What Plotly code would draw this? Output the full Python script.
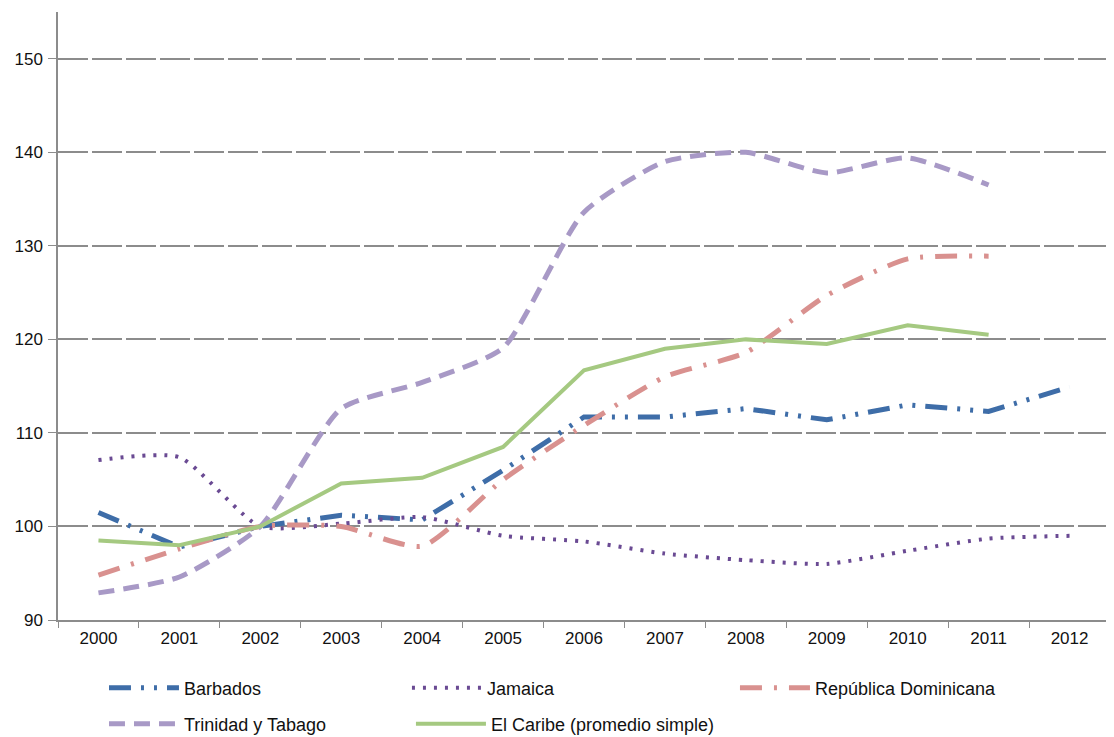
import plotly.graph_objects as go

years = [str(y) for y in range(2000, 2013)]

barbados = [101.5, 97.8, 100.0, 101.2, 100.7, 106.0, 111.7, 111.7, 112.6, 111.4, 113.0, 112.3, 114.9]
jamaica = [107.1, 107.4, 100.0, 100.3, 101.0, 99.0, 98.4, 97.1, 96.4, 96.0, 97.4, 98.7, 99.0]
rep_dominicana = [94.8, 97.6, 100.0, 100.0, 97.9, 105.0, 110.8, 116.0, 118.6, 124.7, 128.6, 128.9]
trinidad = [92.9, 94.6, 100.0, 112.6, 115.4, 119.1, 133.6, 139.0, 140.0, 137.8, 139.4, 136.5]
caribe = [98.5, 98.0, 100.0, 104.6, 105.2, 108.5, 116.7, 119.0, 120.0, 119.5, 121.5, 120.5]

y_ticks = [90, 100, 110, 120, 130, 140, 150]

fig = go.Figure()

# series: name, values, colour, width, dash pattern, smoothed?, legend id, legend x, legend y
series = [
    ("Barbados", barbados, "#3E6DA8", 5, "22px,10px,3px,10px,3px,10px", False, "legend", 0.0437, 0.0672),
    ("Jamaica", jamaica, "#6A4A93", 4, "3px,8px", True, "legend2", 0.3317, 0.0672),
    ("República Dominicana", rep_dominicana, "#D9918F", 5, "22px,12px,3px,12px", True, "legend3", 0.6435, 0.0672),
    ("Trinidad y Tabago", trinidad, "#A899C6", 5, "16px,9px", True, "legend4", 0.0437, 0.0178),
    ("El Caribe (promedio simple)", caribe, "#A5C981", 4, "solid", False, "legend5", 0.3355, 0.0178),
]

legend_style = dict(orientation="h", xanchor="left", yanchor="middle",
                    xref="paper", yref="container",
                    font=dict(size=18), itemwidth=70, bgcolor="rgba(0,0,0,0)")

legends = {}
for name, vals, color, width, dash, smooth, leg, lx, ly in series:
    fig.add_trace(go.Scatter(
        x=years[:len(vals)], y=vals, name=name, mode="lines", legend=leg,
        line=dict(color=color, width=width, dash=dash,
                  shape="spline" if smooth else "linear", smoothing=0.6),
    ))
    legends[leg] = dict(x=lx, y=ly, **legend_style)

# page body has an 8px margin, so the figure is drawn 8px smaller and offset
fig.update_layout(
    width=1106, height=729,
    margin=dict(l=50, r=4, t=4, b=117),
    plot_bgcolor="white", paper_bgcolor="white",
    font=dict(family="Liberation Sans, Arial, sans-serif", size=18, color="#111111"),
    showlegend=True,
    **legends,
)

fig.update_xaxes(
    type="category", categoryorder="array", categoryarray=years,
    range=[-0.5, 12.5], automargin=False,
    showgrid=False, showline=True, linecolor="#8c8c8c", linewidth=1.5,
    ticks="outside", tickson="boundaries", ticklen=6, tickcolor="#8c8c8c",
    tickfont=dict(size=17), ticklabelstandoff=2,
)
fig.update_yaxes(
    range=[90, 155], tickvals=y_ticks, automargin=False,
    showgrid=True, gridcolor="#8c8c8c", gridwidth=1.5, griddash="30px,4px",
    showline=True, linecolor="#8c8c8c", linewidth=1.5,
    ticks="outside", ticklen=8, tickcolor="#8c8c8c",
    tickfont=dict(size=17), ticklabelstandoff=2, zeroline=False,
)

fig.write_html("out.html")
